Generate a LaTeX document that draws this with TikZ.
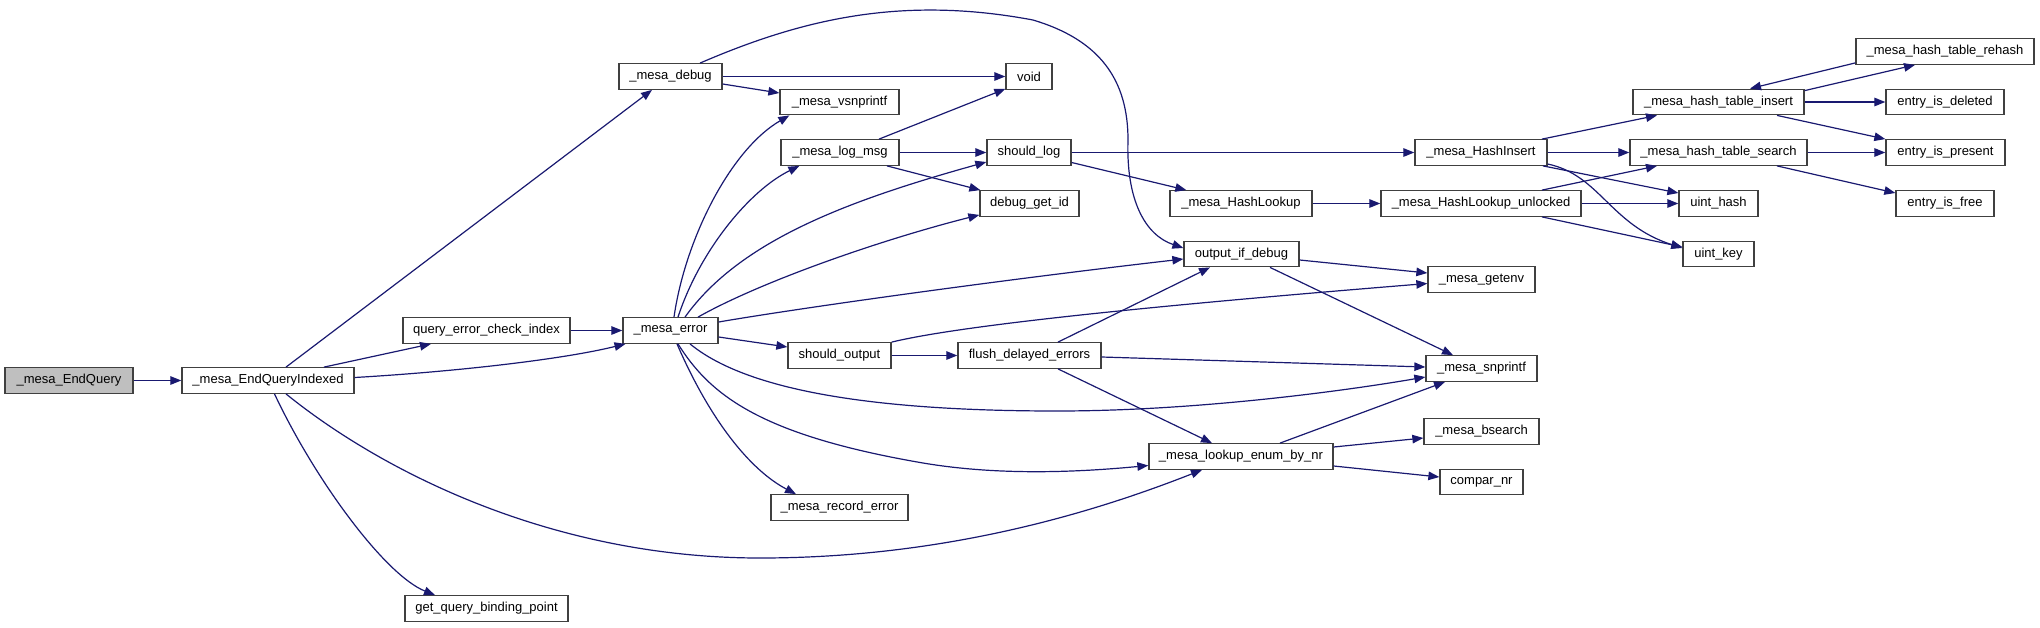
\documentclass[tikz,border=0pt]{standalone}
\usepackage{fontspec}
\setmainfont{Liberation Sans}
\usetikzlibrary{arrows.meta,calc}
\definecolor{edgeblue}{HTML}{191970}
\definecolor{boxline}{HTML}{404040}
\definecolor{rootfill}{HTML}{BFBFBF}
\begin{document}
\begin{tikzpicture}[x=1pt,y=-1pt,
  box/.style={draw=boxline,line width=1.3pt,fill=white,rectangle,inner sep=0pt,
    minimum height=25.5pt,font=\fontsize{13}{15}\selectfont},
  rootbox/.style={box,fill=rootfill},
  edge/.style={draw=edgeblue,line width=1.2pt,-{Triangle[length=11pt,width=8.5pt]}}]
\useasboundingbox (0,0) rectangle (2040,627);
% nodes
\node[rootbox,minimum width=128pt] (eq) at (69,380.5) {\_mesa\_EndQuery};
\node[box,minimum width=172pt] (eqi) at (268,380.5) {\_mesa\_EndQueryIndexed};
\node[box,minimum width=103pt] (dbg) at (670.5,76.5) {\_mesa\_debug};
\node[box,minimum width=167pt] (qec) at (486.5,330.5) {query\_error\_check\_index};
\node[box,minimum width=95pt] (err) at (670.5,330.5) {\_mesa\_error};
\node[box,minimum width=163pt] (gqb) at (486.5,608.5) {get\_query\_binding\_point};
\node[box,minimum width=46pt] (void) at (1029,76.5) {void};
\node[box,minimum width=119pt] (vsn) at (839.5,102) {\_mesa\_vsnprintf};
\node[box,minimum width=118pt] (log) at (840,152.5) {\_mesa\_log\_msg};
\node[box,minimum width=84pt] (slog) at (1029,152.5) {should\_log};
\node[box,minimum width=99pt] (dgi) at (1029.5,203.5) {debug\_get\_id};
\node[box,minimum width=142pt] (hl) at (1241,203.5) {\_mesa\_HashLookup};
\node[box,minimum width=115pt] (oid) at (1241.5,254) {output\_if\_debug};
\node[box,minimum width=103pt] (sout) at (839.5,355.5) {should\_output};
\node[box,minimum width=143pt] (fde) at (1029.5,355.5) {flush\_delayed\_errors};
\node[box,minimum width=184pt] (len) at (1241,456.5) {\_mesa\_lookup\_enum\_by\_nr};
\node[box,minimum width=137pt] (rec) at (839.5,507.5) {\_mesa\_record\_error};
\node[box,minimum width=132pt] (hi) at (1481,152.5) {\_mesa\_HashInsert};
\node[box,minimum width=200pt] (hlu) at (1481,203.5) {\_mesa\_HashLookup\_unlocked};
\node[box,minimum width=107pt] (genv) at (1481.5,279.5) {\_mesa\_getenv};
\node[box,minimum width=111pt] (snp) at (1481.5,368.5) {\_mesa\_snprintf};
\node[box,minimum width=115pt] (bs) at (1481.5,431.5) {\_mesa\_bsearch};
\node[box,minimum width=83pt] (cmp) at (1481.5,482) {compar\_nr};
\node[box,minimum width=171pt] (hti) at (1718.5,102) {\_mesa\_hash\_table\_insert};
\node[box,minimum width=177pt] (hts) at (1718.5,152.5) {\_mesa\_hash\_table\_search};
\node[box,minimum width=79pt] (uh) at (1718.5,203.5) {uint\_hash};
\node[box,minimum width=71pt] (uk) at (1718.5,254) {uint\_key};
\node[box,minimum width=178pt] (reh) at (1945,51.5) {\_mesa\_hash\_table\_rehash};
\node[box,minimum width=118pt] (eid) at (1945,102) {entry\_is\_deleted};
\node[box,minimum width=119pt] (eip) at (1945.5,152.5) {entry\_is\_present};
\node[box,minimum width=98pt] (eif) at (1945,203.5) {entry\_is\_free};
% edges
\draw[edge] (eq.east) -- (eqi.west);
\draw[edge] ($(eqi.north)+(18,0)$) -- ($(dbg.south)+(-18.5,0)$);
\draw[edge] ($(eqi.north)+(56,0)$) -- ($(qec.south)+(-55.5,0)$);
\draw[edge] ($(eqi.east)+(0,-3)$) .. controls (450,372) and (560,360) .. ($(err.south)+(-45,0)$);
\draw[edge] ($(eqi.south)+(6.5,0)$) .. controls (315,480) and (385,575) .. ($(gqb.north)+(-51.5,0)$);
\draw[edge] ($(eqi.south)+(18,0)$) .. controls (380,470) and (550,558) .. (760,558)
   .. controls (950,558) and (1100,510) .. ($(len.south)+(-39,0)$);
\draw[edge] (qec.east) -- (err.west);
\draw[edge] (dbg.east) -- (void.west);
\draw[edge] ($(dbg.east)+(0,7.5)$) -- ($(vsn.west)+(0,-9)$);
\draw[edge] ($(dbg.north)+(29.5,0)$) .. controls (800,20) and (900,-5) .. (1033,20)
   .. controls (1100,40) and (1128,80) .. (1128,140)
   .. controls (1126,200) and (1145,235) .. ($(oid.west)+(0,-6)$);
% from _mesa_error
\draw[edge] ($(err.north)+(3.5,0)$) .. controls (685,240) and (730,150) .. ($(vsn.south west)+(10,0)$);
\draw[edge] ($(err.north)+(7.5,0)$) .. controls (700,250) and (750,190) .. ($(log.south west)+(19,0)$);
\draw[edge] ($(err.north)+(14.5,0)$) .. controls (740,240) and (850,200) .. ($(slog.west)+(0,9.5)$);
\draw[edge] ($(err.north)+(27.5,0)$) .. controls (760,282) and (880,240) .. ($(dgi.south west)+(0,-2)$);
\draw[edge] ($(err.east)+(0,-8.5)$) .. controls (800,308) and (1000,280) .. ($(oid.west)+(0,5)$);
\draw[edge] ($(err.east)+(0,6.5)$) -- ($(sout.west)+(0,-8.5)$);
\draw[edge] ($(err.south)+(19.5,0)$) .. controls (740,385) and (850,411) .. (1057,411)
   .. controls (1200,411) and (1350,390) .. ($(snp.west)+(0,8.5)$);
\draw[edge] ($(err.south)+(7.5,0)$) .. controls (710,395) and (760,435) .. (923,463)
   .. controls (1000,476) and (1080,472) .. ($(len.west)+(0,9)$);
\draw[edge] ($(err.south)+(6.5,0)$) .. controls (710,420) and (750,470) .. ($(rec.north)+(-43.5,0)$);
% middle
\draw[edge] ($(log.north)+(39,0)$) -- ($(void.south west)+(0,-1)$);
\draw[edge] (log.east) -- (slog.west);
\draw[edge] ($(log.south)+(47,0)$) -- ($(dgi.north west)+(1,0)$);
\draw[edge] (slog.east) -- (hi.west);
\draw[edge] ($(slog.east)+(0,10)$) -- ($(hl.north west)+(17,0)$);
\draw[edge] (hl.east) -- (hlu.west);
\draw[edge] ($(oid.east)+(0,6)$) -- ($(genv.west)+(0,-6.5)$);
\draw[edge] ($(oid.south)+(28.5,0)$) -- ($(snp.north)+(-28.5,0)$);
\draw[edge] (sout.north east) .. controls (950,328) and (1100,310) .. ($(genv.west)+(0,4)$);
\draw[edge] (sout.east) -- (fde.west);
\draw[edge] ($(fde.north)+(28.5,0)$) -- ($(oid.south)+(-31.5,0)$);
\draw[edge] ($(fde.east)+(0,1.5)$) -- ($(snp.west)+(0,-1.5)$);
\draw[edge] ($(fde.south)+(28.5,0)$) -- ($(len.north)+(-29,0)$);
\draw[edge] ($(len.north)+(39,0)$) -- ($(snp.south)+(-36.5,0)$);
\draw[edge] ($(len.east)+(0,-9.5)$) -- ($(bs.west)+(0,6.5)$);
\draw[edge] ($(len.east)+(0,9.5)$) -- ($(cmp.west)+(0,-5)$);
% hash part
\draw[edge] ($(hi.north)+(61,0)$) -- ($(hti.south)+(-61.5,0)$);
\draw[edge] (hi.east) -- (hts.west);
\draw[edge] ($(hi.south)+(62,0)$) -- ($(uh.west)+(0,-10.5)$);
\draw[edge] ($(hi.east)+(0,11.5)$) .. controls (1600,175) and (1610,225) .. ($(uk.west)+(0,-6)$);
\draw[edge] ($(hlu.north)+(61,0)$) -- ($(hts.south)+(-61.5,0)$);
\draw[edge] (hlu.east) -- (uh.west);
\draw[edge] ($(hlu.south)+(61,0)$) -- ($(uk.west)+(0,-7)$);
\draw[edge] ($(hti.north east)+(0,2)$) -- ($(reh.south)+(-30,0)$);
\draw[edge] ($(reh.south west)+(0,-2)$) -- ($(hti.north)+(31.5,0)$);
\draw[edge] (hti.east) -- (eid.west);
\draw[edge] ($(hti.south)+(58.5,0)$) -- (eip.north west);
\draw[edge] (hts.east) -- (eip.west);
\draw[edge] ($(hts.south)+(58.5,0)$) -- ($(eif.west)+(0,-10.5)$);
\end{tikzpicture}
\end{document}
